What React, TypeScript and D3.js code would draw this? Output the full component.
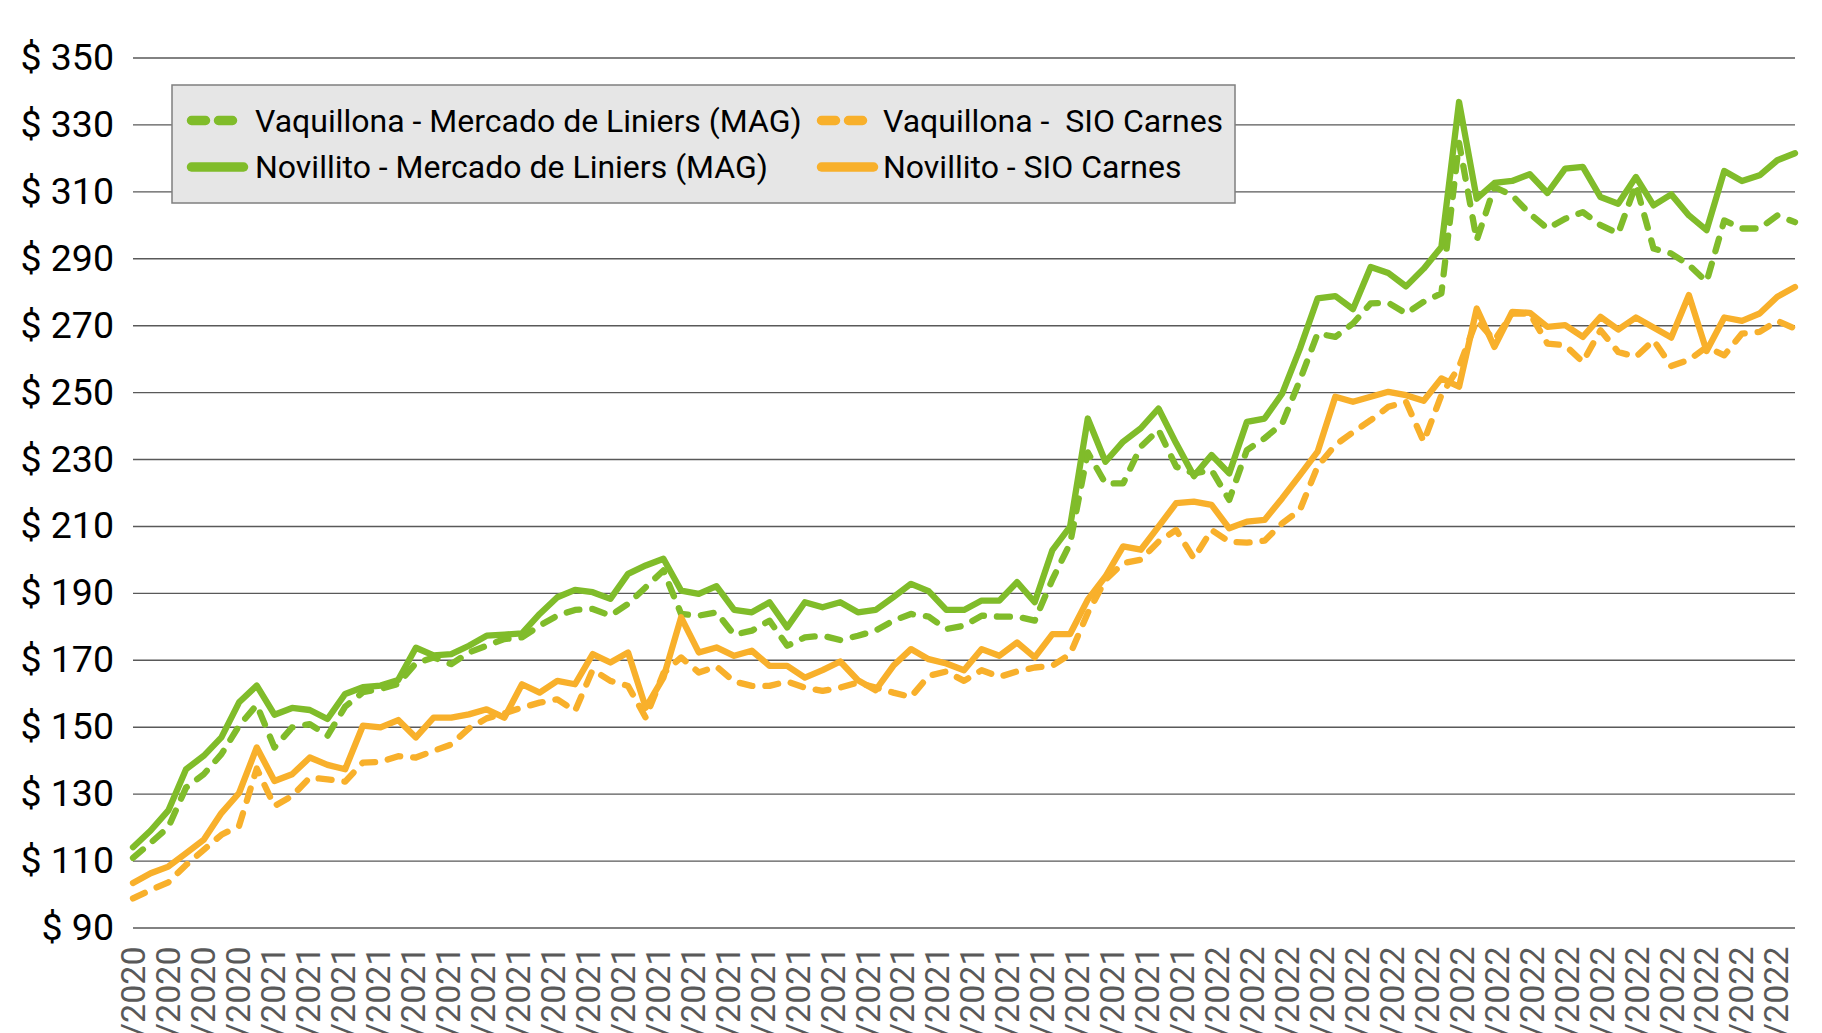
import React, { useEffect, useRef } from 'react'
import * as d3 from 'd3'

// fechas semanales (viernes)
const fechas = [
  '06/11/2020', '13/11/2020', '20/11/2020', '27/11/2020',
  '04/12/2020', '11/12/2020', '18/12/2020', '25/12/2020',
  '01/01/2021', '08/01/2021', '15/01/2021', '22/01/2021', '29/01/2021',
  '05/02/2021', '12/02/2021', '19/02/2021', '26/02/2021',
  '05/03/2021', '12/03/2021', '19/03/2021', '26/03/2021',
  '02/04/2021', '09/04/2021', '16/04/2021', '23/04/2021', '30/04/2021',
  '07/05/2021', '14/05/2021', '21/05/2021', '28/05/2021',
  '04/06/2021', '11/06/2021', '18/06/2021', '25/06/2021',
  '02/07/2021', '09/07/2021', '16/07/2021', '23/07/2021', '30/07/2021',
  '06/08/2021', '13/08/2021', '20/08/2021', '27/08/2021',
  '03/09/2021', '10/09/2021', '17/09/2021', '24/09/2021',
  '01/10/2021', '08/10/2021', '15/10/2021', '22/10/2021', '29/10/2021',
  '05/11/2021', '12/11/2021', '19/11/2021', '26/11/2021',
  '03/12/2021', '10/12/2021', '17/12/2021', '24/12/2021', '31/12/2021',
  '07/01/2022', '14/01/2022', '21/01/2022', '28/01/2022',
  '04/02/2022', '11/02/2022', '18/02/2022', '25/02/2022',
  '04/03/2022', '11/03/2022', '18/03/2022', '25/03/2022',
  '01/04/2022', '08/04/2022', '15/04/2022', '22/04/2022', '29/04/2022',
  '06/05/2022', '13/05/2022', '20/05/2022', '27/05/2022',
  '03/06/2022', '10/06/2022', '17/06/2022', '24/06/2022',
  '01/07/2022', '08/07/2022', '15/07/2022', '22/07/2022', '29/07/2022',
  '05/08/2022', '12/08/2022', '19/08/2022', '26/08/2022',
]

// etiquetas del eje x (cada 14 días)
const etiquetasX = [
  '06/11/2020', '20/11/2020', '04/12/2020', '18/12/2020',
  '01/01/2021', '15/01/2021', '29/01/2021', '12/02/2021', '26/02/2021',
  '12/03/2021', '26/03/2021', '09/04/2021', '23/04/2021', '07/05/2021',
  '21/05/2021', '04/06/2021', '18/06/2021', '02/07/2021', '16/07/2021',
  '30/07/2021', '13/08/2021', '27/08/2021', '10/09/2021', '24/09/2021',
  '08/10/2021', '22/10/2021', '05/11/2021', '19/11/2021', '03/12/2021',
  '17/12/2021', '31/12/2021', '14/01/2022', '28/01/2022', '11/02/2022',
  '25/02/2022', '11/03/2022', '25/03/2022', '08/04/2022', '22/04/2022',
  '06/05/2022', '20/05/2022', '03/06/2022', '17/06/2022', '01/07/2022',
  '15/07/2022', '29/07/2022', '12/08/2022', '26/08/2022',
]

const vaquillonaMAG = [
  110.8, 115.3, 120, 131.8, 135.8, 141.8, 150.3, 156.5, 143.8, 149.8,
  150.8, 147.3, 156, 160.3, 161.3, 162.8, 169, 170.7, 168.7, 172.2,
  174.2, 176.2, 176.7, 180.2, 183.2, 184.9, 185.2, 183.2, 186.7, 191.7,
  196.7, 183.7, 183.2, 184.2, 177.5, 178.7, 181.7, 174.2, 176.7, 177.2,
  175.9, 177.2, 178.7, 181.7, 183.7, 182.9, 179.2, 180.2, 183.2, 182.9,
  182.9, 181.7, 194, 204.8, 232, 222.7, 222.7, 233.7, 238.7, 227.7,
  225.7, 226.7, 217.8, 232.7, 236.2, 240.6, 253.6, 267.5, 266.5, 270.5,
  276.5, 276.7, 273.5, 277, 279.5, 324.5, 295.4, 311.3, 308.8, 303.3,
  298.9, 301.8, 303.8, 299.9, 297.4, 312, 292.9, 291.4, 288, 283,
  301.3, 298.9, 298.9, 302.8, 300.8,
]

const novilloMAG = [
  114, 119, 125, 137.3, 141.3, 146.8, 157.3, 162.3, 153.6, 155.6,
  155, 152.3, 159.8, 161.8, 162.3, 164, 173.6, 171.3, 171.7, 174.2,
  177.2, 177.5, 177.9, 183.7, 188.7, 190.9, 190.2, 188.2, 195.7, 198.2,
  200.2, 190.7, 189.7, 192, 184.9, 184.2, 187.2, 179.7, 187.2, 185.7,
  187.2, 184.2, 184.9, 188.7, 192.7, 190.5, 184.9, 184.9, 187.7, 187.7,
  193.2, 187.2, 202.8, 209.8, 242.1, 229.2, 235.2, 239.2, 245.1, 234.7,
  224.9, 231.2, 225.7, 241.1, 242.1, 249.6, 263, 278, 278.7, 274.8,
  287.4, 285.6, 281.6, 286.9, 293.4, 336.7, 307.8, 312.5, 313.1, 315.1,
  309.5, 316.8, 317.3, 308.3, 306.3, 314.3, 305.8, 309.1, 302.8, 298.4,
  316.1, 313.1, 314.8, 319.3, 321.4,
]

const vaquillonaSIO = [
  98.7, 101.2, 103.5, 108.7, 113.2, 117.7, 120.4, 137.5, 126.3, 129.3,
  134.8, 134.3, 133.6, 139.3, 139.5, 141.2, 140.8, 142.8, 144.7, 149.5,
  152.5, 154, 155.7, 157.2, 158.2, 154.7, 167, 163.7, 162.2, 152.7,
  166, 170.7, 166.2, 168, 163.5, 162.2, 162.2, 163.5, 161.7, 160.7,
  161.7, 163.2, 161.7, 160.2, 158.9, 165.2, 166.5, 163.7, 166.9, 164.9,
  166.5, 167.7, 168.2, 171.7, 184, 193.9, 198.9, 199.9, 205.3, 208.8,
  200.3, 208.8, 205.3, 205, 205.6, 210.8, 214.8, 227.8, 234.2, 238,
  241.6, 245.6, 247.1, 235.2, 249.1, 257.6, 271.5, 265.5, 273.5, 273.5,
  264.5, 264, 259, 268.5, 262, 260.5, 265.5, 257.8, 259.6, 263.5,
  261, 267.5, 268, 271.3, 269,
]

const novilloSIO = [
  103.3, 106.2, 108.2, 112.2, 116.2, 124.2, 130.2, 143.8, 133.8, 135.8,
  140.8, 138.6, 137.3, 150.3, 149.8, 152, 146.8, 152.7, 152.7, 153.7,
  155.2, 152.7, 162.7, 160.2, 163.7, 162.7, 171.7, 169.2, 172.2, 155.7,
  164.7, 182.7, 172.2, 173.7, 171.2, 172.7, 168.2, 168.2, 164.7, 166.9,
  169.5, 163.9, 160.9, 168.2, 173.2, 170.2, 168.9, 166.9, 173.2, 171.2,
  175.2, 170.7, 177.7, 177.7, 188, 194.9, 203.9, 202.9, 209.8, 216.8,
  217.3, 216.3, 209.3, 211.3, 211.8, 218.3, 225.2, 232.2, 248.6, 247.1,
  248.6, 250.1, 249.1, 247.4, 254.1, 251.6, 275, 263.5, 274, 273.7,
  269.5, 270, 266.5, 272.5, 268.7, 272.3, 269.3, 266.3, 279, 262.3,
  272.3, 271.3, 273.5, 278.5, 281.4,
]

const yTicks = [90, 110, 130, 150, 170, 190, 210, 230, 250, 270, 290, 310, 330, 350]

const VERDE = '#80BC2A'
const NARANJA = '#F8B02B'

const App = () => {
  const ref = useRef<SVGSVGElement>(null)

  useEffect(() => {
    const svg = d3.select(ref.current)
    svg.selectAll('*').remove()

    const left = 133
    const right = 1795
    const top = 57.5
    const bottom = 927.5

    const x = d3.scalePoint<string>().domain(fechas).range([left, right])
    // el eje de fechas de la planilla termina la etiqueta un poco antes del último dato
    const xEtiq = d3.scalePoint<string>().domain(etiquetasX).range([left, 1776])
    const y = d3.scaleLinear().domain([90, 350]).range([bottom, top])

    // eje y con grilla
    const yAxis = svg.append('g')
      .attr('transform', `translate(${left},0)`)
      .call(d3.axisLeft(y).tickValues(yTicks).tickSize(-(right - left)).tickPadding(19)
        .tickFormat((d) => `$ ${d}`))
    yAxis.select('.domain').remove()
    yAxis.selectAll('line').attr('stroke', '#595959').attr('stroke-width', 1.4)
    yAxis.selectAll('text')
      .attr('font-family', 'Roboto').attr('font-size', 37.5).attr('fill', '#000')

    // eje x
    const xAxis = svg.append('g')
      .attr('transform', `translate(0,${bottom})`)
      .call(d3.axisBottom(xEtiq).tickSize(0))
    xAxis.select('.domain').remove()
    xAxis.selectAll('text')
      .attr('transform', 'rotate(-90)')
      .attr('text-anchor', 'end')
      .attr('x', -19).attr('y', 0).attr('dy', '0.35em')
      .attr('font-family', 'Roboto').attr('font-size', 34).attr('fill', '#595959')

    const series = [
      { nombre: 'Vaquillona - Mercado de Liniers (MAG)', valores: vaquillonaMAG, color: VERDE, dash: true },
      { nombre: 'Vaquillona -  SIO Carnes', valores: vaquillonaSIO, color: NARANJA, dash: true },
      { nombre: 'Novillito - Mercado de Liniers (MAG)', valores: novilloMAG, color: VERDE, dash: false },
      { nombre: 'Novillito - SIO Carnes', valores: novilloSIO, color: NARANJA, dash: false },
    ]

    const line = d3.line<number>()
      .x((_, i) => x(fechas[i]) as number)
      .y((d) => y(d))

    series.forEach((s) => {
      svg.append('path')
        .attr('d', line(s.valores))
        .attr('fill', 'none')
        .attr('stroke', s.color)
        .attr('stroke-width', 6.3)
        .attr('stroke-linejoin', 'round')
        .attr('stroke-linecap', 'round')
        .attr('stroke-dasharray', s.dash ? '13 13' : null)
    })

    // leyenda
    const legend = svg.append('g')
    legend.append('rect')
      .attr('x', 172).attr('y', 85).attr('width', 1063).attr('height', 118)
      .attr('fill', '#E6E6E6').attr('stroke', '#7F7F7F').attr('stroke-width', 1.5)

    const cols = [191.5, 821.5]
    const textX = [255, 883]
    const rows = [120.5, 167]
    series.forEach((s, i) => {
      const cx = cols[i % 2]
      const cy = rows[Math.floor(i / 2)]
      legend.append('line')
        .attr('x1', cx).attr('x2', s.dash ? cx + 41 : cx + 52)
        .attr('y1', cy).attr('y2', cy)
        .attr('stroke', s.color).attr('stroke-width', 9.5)
        .attr('stroke-linecap', 'round')
        .attr('stroke-dasharray', s.dash ? '14 13' : null)
      legend.append('text')
        .attr('x', textX[i % 2]).attr('y', cy).attr('dy', '0.35em')
        .attr('font-family', 'Roboto').attr('font-size', 32).attr('fill', '#000')
        .style('white-space', 'pre')
        .text(s.nombre)
    })
  }, [])

  return (
    <svg
      ref={ref}
      width={1822}
      height={1033}
      style={{ position: 'absolute', left: 0, top: 0, background: '#fff' }}
    />
  )
}

export default App
